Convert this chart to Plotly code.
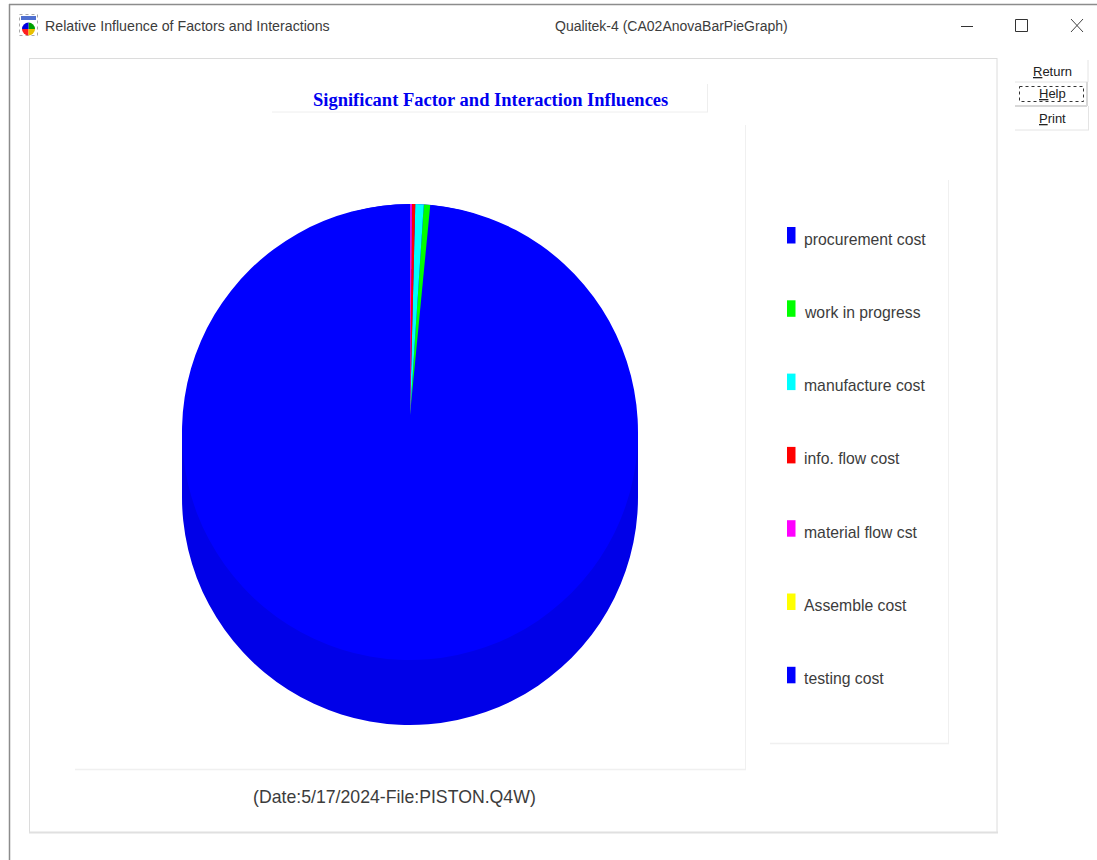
import plotly.graph_objects as go

W, H = 1097, 860

categories = ["procurement cost", "work in progress", "manufacture cost", "info. flow cost",
              "material flow cst", "Assemble cost", "testing cost"]
influence = [98.47, 0.49, 0.64, 0.26, 0.13, 0.005, 0.005]
slice_colors = ["#0000ff", "#00ff00", "#00ffff", "#ff0000", "#ff00ff", "#ffff00", "#0000ff"]
side_color = "#0000e8"
title_text = "Significant Factor and Interaction Influences"
footer_text = "(Date:5/17/2024-File:PISTON.Q4W)"
window_title = "Relative Influence of Factors and Interactions"
window_app = "Qualitek-4 (CA02AnovaBarPieGraph)"
buttons = ["<u>R</u>eturn", "<u>H</u>elp", "<u>P</u>rint"]
icon_values = [25, 25, 25, 25]
icon_colors = ["#00a000", "#0000e0", "#ff2020", "#e8c000"]


def px(x):
    return x / W


def py(y):
    return 1 - y / H


def pie_domain(cx, cy, r):
    return dict(x=[px(cx - r), px(cx + r)], y=[py(cy + r), py(cy - r)])


def line(x0, y0, x1, y1, color="#dcdcdc", width=1, dash="solid"):
    return dict(type="line", xref="paper", yref="paper", x0=px(x0), y0=py(y0), x1=px(x1), y1=py(y1),
                line=dict(color=color, width=width, dash=dash), layer="below")


def rect(x0, y0, x1, y1, fill=None, color=None, width=0, dash="solid"):
    return dict(type="rect", xref="paper", yref="paper", x0=px(x0), y0=py(y0), x1=px(x1), y1=py(y1),
                fillcolor=fill or "rgba(0,0,0,0)", line=dict(color=color or "rgba(0,0,0,0)", width=width, dash=dash),
                layer="below")


def text(x, y, s, size, color="#3c3c3c", family="Liberation Sans", anchor="left"):
    return dict(xref="paper", yref="paper", x=px(x), y=py(y), text=s, showarrow=False, xanchor=anchor,
                yanchor="middle", font=dict(family=family, size=size, color=color), borderpad=0)


# the small slices sit just right of twelve o'clock, magenta first
start_angle = 360 * sum(influence[1:]) / sum(influence)
common = dict(sort=False, direction="counterclockwise", rotation=start_angle, textinfo="none",
              showlegend=False, hoverinfo="label+percent")

fig = go.Figure()
# side wall of the disc
fig.add_trace(go.Pie(labels=categories, values=influence, marker=dict(colors=[side_color] * 7, line=dict(width=0)),
                     domain=pie_domain(410, 497, 228), **common))
# top face
fig.add_trace(go.Pie(labels=categories, values=influence, marker=dict(colors=["#0000ff"] * 7, line=dict(width=0)),
                     domain=pie_domain(410, 432, 228), **common))
# coloured slices, converging above the face centre as in the source
fig.add_trace(go.Pie(labels=categories, values=influence, marker=dict(colors=slice_colors, line=dict(width=0)),
                     domain=pie_domain(410, 415, 211), **common))
# window icon
fig.add_trace(go.Pie(values=icon_values, marker=dict(colors=icon_colors, line=dict(width=0)),
                     domain=pie_domain(28.5, 29, 6.5), sort=False, textinfo="none", showlegend=False, hoverinfo="skip"))

shapes = [
    # disc wall between the two circles
    rect(182, 432, 638, 497, fill=side_color),
    # window frame
    line(9, 4.5, 1097, 4.5, color="#8c8c8c", width=1.5),
    line(9.5, 4, 9.5, 860, color="#8c8c8c", width=1.5),
    # inner panel
    line(29, 58.5, 997, 58.5),
    line(29.5, 58, 29.5, 833),
    line(997, 58, 997, 833),
    line(29, 832.5, 998, 832.5, color="#e0e0e0", width=2),
    # title box
    line(272, 112, 708, 112, color="#eeeeee"),
    line(707.5, 84, 707.5, 112, color="#eeeeee"),
    # plot box
    line(745.5, 125, 745.5, 770, color="#f0f0f0"),
    line(75, 769.5, 746, 769.5, color="#f0f0f0", width=1.5),
    # legend box
    line(948.5, 180, 948.5, 744, color="#f0f0f0"),
    line(770, 743.5, 949, 743.5, color="#f0f0f0", width=1.5),
    # window controls
    line(961, 26.5, 973, 26.5, color="#333333"),
    rect(1015.5, 19.5, 1027.5, 31.5, color="#333333", width=1),
    line(1071, 19, 1083, 32, color="#444444"),
    line(1083, 19, 1071, 32, color="#444444"),
    # icon
    rect(19.5, 14.5, 37.5, 35.5, color="#aaaaaa", width=1, dash="dot"),
    rect(21, 16, 36, 20, fill="#5070d0"),
    # buttons
    line(1015, 82, 1088, 82, color="#e4e4e4"),
    line(1088, 60, 1088, 82, color="#e4e4e4"),
    line(1015, 106, 1087, 106, color="#d8d8d8", width=2),
    line(1087, 82, 1087, 106, color="#d8d8d8", width=2),
    rect(1019.5, 86.5, 1083.5, 101.5, color="#333333", width=1, dash="dot"),
    line(1015, 130, 1089, 130, color="#e4e4e4"),
    line(1088.5, 106, 1088.5, 130, color="#e4e4e4"),
]

annotations = [
    text(490, 99.5, f"<b>{title_text}</b>", 18.5, color="#0000f0", family="Liberation Serif", anchor="center"),
    text(394, 797, footer_text, 17.7, anchor="center"),
    text(44, 26, window_title, 14.2),
    text(671, 26, window_app, 14, anchor="center"),
]

for i, (name, color) in enumerate(zip(categories, slice_colors)):
    y = 239 + i * 73.3
    shapes.append(rect(787, y - 12, 795.5, y + 4.5, fill=color))
    annotations.append(text(802.5, y, name, 15.75))

for label, y in zip(buttons, [71, 93.5, 118.5]):
    annotations.append(text(1052, y, label, 13, color="#222222", anchor="center"))

fig.update_layout(width=W, height=H, autosize=False, margin=dict(l=0, r=0, t=0, b=0, pad=0),
                  paper_bgcolor="#ffffff", plot_bgcolor="#ffffff", shapes=shapes, annotations=annotations)

fig.write_html("out.html", config={"displayModeBar": False},
               post_script="document.body.style.margin='0';document.body.style.overflow='hidden';")
